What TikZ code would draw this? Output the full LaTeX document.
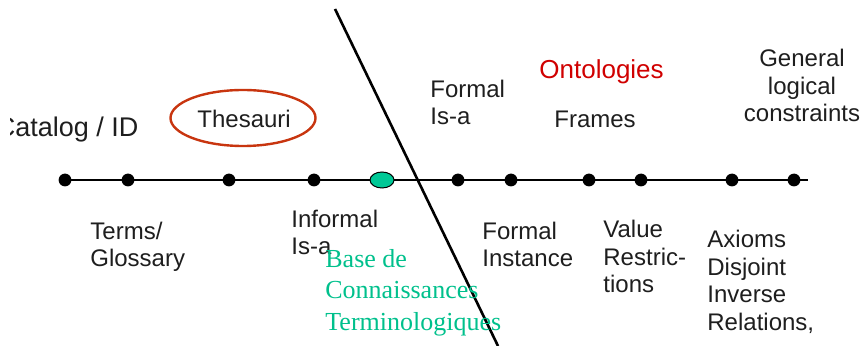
\documentclass[tikz,border=0pt]{standalone}
\usepackage{fontspec}
\setmainfont{Liberation Sans}
\newfontfamily\kbfont{Liberation Serif}
\usetikzlibrary{shapes.geometric,backgrounds}
\definecolor{labelgray}{HTML}{1E1E1E}
\definecolor{ontored}{HTML}{D00000}
\definecolor{ringred}{HTML}{C8350F}
\definecolor{kbgreen}{HTML}{00C08C}
\definecolor{kbfill}{HTML}{00C896}
\begin{document}
\begin{tikzpicture}[x=0.5pt,y=-0.5pt,
  lbl/.style={anchor=base west, inner sep=0pt, align=left,
    font=\fontsize{12}{13.75}\selectfont, text=labelgray},
  dot/.style={circle, fill=black, inner sep=0pt, minimum size=6.4pt},
  axis/.style={line width=1.1pt, black},
  divider/.style={line width=1.3pt, black}]
\useasboundingbox (0,0) rectangle (865,346);

% points along the scale
\node[dot] (d1) at (65,180) {};
\node[dot] (d2) at (128,180) {};
\node[dot] (d3) at (229,180) {};
\node[dot] (d4) at (314,180) {};
\node[ellipse, draw=black, line width=0.5pt, fill=kbfill, inner sep=0pt,
      minimum width=12pt, minimum height=8pt] (kb) at (382,180) {};
\node[dot] (d5) at (458,180) {};
\node[dot] (d6) at (511,180) {};
\node[dot] (d7) at (589,180) {};
\node[dot] (d8) at (641,180) {};
\node[dot] (d9) at (732,180) {};
\node[dot] (d10) at (794,180) {};
\coordinate (axisend) at (808,180);

\begin{scope}[on background layer]
\draw[axis] (d1.center) -- (axisend);
\end{scope}

% dividing line
\coordinate (divtop) at (335,9);
\coordinate (divbot) at (498,346);
\draw[divider] (divtop) -- (divbot);

% labels above the scale
\begin{scope}
\clip (10,100) rectangle (160,150);
\node[lbl, font=\fontsize{13.5}{15}\selectfont] (catalog) at (-4.5,137) {Catalog / ID};
\end{scope}
\node[lbl] (thesauri) at (197,128) {Thesauri};
\node[ellipse, draw=ringred, line width=1.2pt, inner sep=0pt,
      minimum width=72.5pt, minimum height=28pt] (thesring) at (243,118) {};
\node[lbl] (formalisa) at (430,125) {Formal\\Is-a};
\node[lbl, text=ontored, font=\fontsize{13}{15}\selectfont] (onto) at (539,79) {Ontologies};
\node[lbl] (frames) at (554,128) {Frames};
\node[lbl, anchor=base, align=center] (general) at (802,122) {General\\logical\\constraints};

% labels below the scale
\node[lbl] (terms) at (90,267) {Terms/\\Glossary};
\node[lbl] (informal) at (291,255) {Informal\\Is-a};
\node[lbl] (instance) at (482,267) {Formal\\Instance};
\node[lbl] (value) at (603,293) {Value\\Restric-\\tions};
\node[lbl] (axioms) at (707,330) {Axioms\\Disjoint\\Inverse\\Relations,};
\node[lbl, text=kbgreen, font=\kbfont\fontsize{13}{15.75}\selectfont] (kbtext) at (325,330)
  {Base de\\Connaissances\\Terminologiques};
\end{tikzpicture}
\end{document}
